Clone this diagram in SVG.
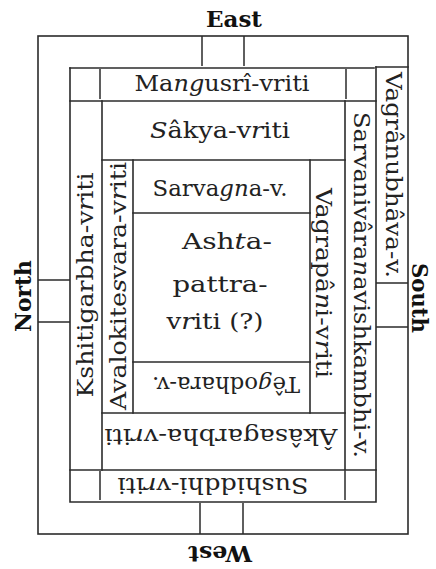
<svg xmlns="http://www.w3.org/2000/svg" width="436" height="569" viewBox="0 0 436 569">
  <style>
    .ln { stroke: #2b2b2b; stroke-width: 1.6; fill: none; stroke-linecap: square; }
    .tk { stroke: #2b2b2b; stroke-width: 1.5; fill: none; }
    .lb { font-family: "DejaVu Serif", "Liberation Serif", serif; font-size: 22px; fill: #222; text-anchor: middle; }
    .cp { font-family: "DejaVu Serif", "Liberation Serif", serif; font-size: 23px; font-weight: bold; fill: #111; text-anchor: middle; }
    .it { font-style: italic; }
  </style>

  <rect width="436" height="569" fill="#ffffff"/>

  <!-- ruled frame: outer border, inner border and cell dividers -->
  <g id="frame">
    <rect class="ln" x="38" y="36" width="370" height="498"/>
    <path class="ln" d="M70 68 V502 H376 V67"/>
    <path class="ln" d="M70 68 H374"/>
    <path class="ln" d="M376 67 H408"/>
    <path class="ln" d="M70 101 H376"/>
    <path class="ln" d="M70 470 H376"/>
    <path class="ln" d="M102 101 V470"/>
    <path class="ln" d="M345 101 V470"/>
    <path class="ln" d="M102 160 H345"/>
    <path class="ln" d="M102 413 H345"/>
    <path class="ln" d="M133 160 V413"/>
    <path class="ln" d="M310 160 V413"/>
    <path class="ln" d="M133 213 H310"/>
    <path class="ln" d="M133 362 H310"/>
  </g>

  <!-- short gate strokes on each side -->
  <g id="gates">
    <path class="tk" d="M202 36 V66 M244 36 V66"/>
    <path class="tk" d="M200 503 V534 M243 503 V534"/>
    <path class="tk" d="M38 280 H70 M38 322 H70"/>
    <path class="tk" d="M376 283 H408 M376 327 H408"/>
    <path class="tk" d="M100 69 V99 M346 69 V99"/>
    <path class="tk" d="M100 471 V500 M345 471 V500"/>
  </g>

  <!-- compass points -->
  <g id="east"><text class="cp" x="234" y="27" textLength="56" lengthAdjust="spacingAndGlyphs">East</text></g>
  <g id="west"><text class="cp" transform="translate(220,546) rotate(180)" x="0" y="0" textLength="64" lengthAdjust="spacingAndGlyphs">West</text></g>
  <g id="north"><text class="cp" transform="translate(31,296) rotate(-90)" x="0" y="0" textLength="72" lengthAdjust="spacingAndGlyphs">North</text></g>
  <g id="south"><text class="cp" transform="translate(412,298) rotate(90)" x="0" y="0" textLength="70" lengthAdjust="spacingAndGlyphs">South</text></g>

  <!-- cells -->
  <g id="mangusri">
    <text class="lb" x="222" y="91" textLength="175" lengthAdjust="spacingAndGlyphs">Ma<tspan class="it">ng</tspan>usrî-vriti</text>
  </g>
  <g id="sakya">
    <text class="lb" x="220" y="138" textLength="140" lengthAdjust="spacingAndGlyphs"><tspan class="it">S</tspan>âkya-v<tspan class="it">r</tspan>iti</text>
  </g>
  <g id="sarvagna">
    <text class="lb" x="220" y="196" textLength="135" lengthAdjust="spacingAndGlyphs">Sarva<tspan class="it">gn</tspan>a-v.</text>
  </g>
  <g id="ashtapattra">
    <text class="lb" x="227" y="249" textLength="90" lengthAdjust="spacingAndGlyphs">Ash<tspan class="it">t</tspan>a-</text>
    <text class="lb" x="220" y="292" textLength="95" lengthAdjust="spacingAndGlyphs">pattra-</text>
    <text class="lb" x="215" y="329" textLength="97" lengthAdjust="spacingAndGlyphs">v<tspan class="it">r</tspan>iti (?)</text>
  </g>
  <g id="tejodhara">
    <text class="lb" transform="translate(226,377) rotate(180)" x="0" y="0" textLength="148" lengthAdjust="spacingAndGlyphs">Tê<tspan class="it">g</tspan>odhara-v.</text>
  </g>
  <g id="akasagarbha">
    <text class="lb" transform="translate(221,429) rotate(180)" x="0" y="0" textLength="233" lengthAdjust="spacingAndGlyphs">Âkâsagarbha-v<tspan class="it">r</tspan>iti</text>
  </g>
  <g id="sushiddhi">
    <text class="lb" transform="translate(213,478) rotate(180)" x="0" y="0" textLength="191" lengthAdjust="spacingAndGlyphs">Sushiddhi-v<tspan class="it">r</tspan>iti</text>
  </g>
  <g id="kshitigarbha">
    <text class="lb" transform="translate(93,285) rotate(-90)" x="0" y="0" textLength="225" lengthAdjust="spacingAndGlyphs">Kshitigarbha-v<tspan class="it">r</tspan>iti</text>
  </g>
  <g id="avalokitesvara">
    <text class="lb" transform="translate(126,286) rotate(-90)" x="0" y="0" textLength="248" lengthAdjust="spacingAndGlyphs">Avalokite<tspan class="it">s</tspan>vara-v<tspan class="it">r</tspan>iti</text>
  </g>
  <g id="vagrapani">
    <text class="lb" transform="translate(316,283) rotate(90)" x="0" y="0" textLength="190" lengthAdjust="spacingAndGlyphs">Vagrapâ<tspan class="it">n</tspan>i-v<tspan class="it">r</tspan>iti</text>
  </g>
  <g id="sarvanivarana">
    <text class="lb" transform="translate(354,285) rotate(90)" x="0" y="0" textLength="346" lengthAdjust="spacingAndGlyphs">Sarvanivâra<tspan class="it">n</tspan>avishkambhi-v.</text>
  </g>
  <g id="vagranubhava">
    <text class="lb" transform="translate(386,175) rotate(90)" x="0" y="0" textLength="206" lengthAdjust="spacingAndGlyphs">Vagrânubhâva-v.</text>
  </g>
</svg>
